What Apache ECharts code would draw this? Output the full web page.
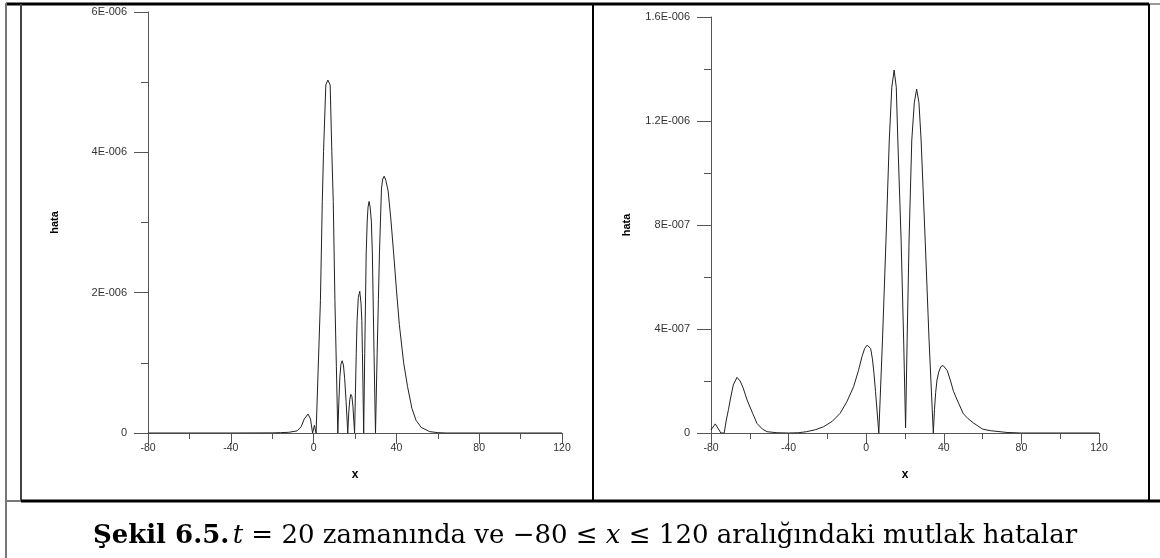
<!DOCTYPE html>
<html>
<head>
<meta charset="utf-8">
<script src="https://cdn.jsdelivr.net/npm/echarts@6/dist/echarts.min.js"></script>
<style>
html,body{margin:0;padding:0;background:#fff;}
#chart{width:1160px;height:558px;}
</style>
</head>
<body>
<div id="chart"></div>
<script>
// ---- Data (left panel): x and absolute error ----
var leftX = [-80,-40,-20,-16,-12,-8,-6,-4.5,-2.7,-1.5,-0.5,0.4,1.2,
  2.2,3.3,4.2,4.8,5.9,6.9,8.0,8.8,9.5,10.3,11.0,11.7,
  12.2,12.7,13.2,13.8,14.4,15.0,15.7,16.5,
  17.0,17.5,18.0,18.5,19.0,19.8,
  20.6,21.0,21.6,22.3,22.9,23.3,23.6,24.2,
  24.7,25.4,25.9,26.3,26.8,27.3,27.9,28.4,29.2,29.9,
  30.7,31.3,31.8,32.8,33.4,34.1,34.9,36.0,37.4,38.7,40.0,41.4,43.5,45.4,47.5,49.5,52,56,60,64,80,120];
var leftY = [0,0,0.002e-6,0.005e-6,0.01e-6,0.03e-6,0.09e-6,0.2e-6,0.27e-6,0.2e-6,0,0.11e-6,0,
  0.9e-6,1.89e-6,3.3e-6,4.01e-6,4.96e-6,5.03e-6,4.96e-6,4.01e-6,3.3e-6,1.89e-6,0.95e-6,0,
  0.45e-6,0.8e-6,0.98e-6,1.03e-6,0.97e-6,0.78e-6,0.45e-6,0,
  0.3e-6,0.48e-6,0.55e-6,0.52e-6,0.38e-6,0,
  1.13e-6,1.6e-6,1.93e-6,2.02e-6,1.85e-6,1.6e-6,1.13e-6,0,
  1.13e-6,2.55e-6,3.02e-6,3.22e-6,3.3e-6,3.22e-6,3.02e-6,2.55e-6,1.13e-6,0,
  1.13e-6,1.9e-6,2.55e-6,3.49e-6,3.62e-6,3.66e-6,3.6e-6,3.45e-6,3.02e-6,2.55e-6,2.05e-6,1.55e-6,1.0e-6,0.66e-6,0.35e-6,0.18e-6,0.08e-6,0.02e-6,0.005e-6,0,0,0];

// ---- Data (right panel): x and absolute error ----
var rightX = [-80,-77.8,-74.9,-73.2,-72.1,-71,-70.1,-68.5,-66.6,-65,-63.5,-61.4,-58.5,-56.3,-53.5,-51.1,-46,-40,-35,-30.7,-26,-22,-17.5,-13.4,
  -10,-6.5,-4,-2.2,-0.8,0.5,1.4,2.3,3.2,4.0,4.8,5.6,6.5,
  8.4,10.2,11.9,13.2,14.4,15.5,16.3,18.0,19.3,20.3,
  21.1,22.1,23.5,24.8,26.0,27.2,28.3,30.4,32.4,34.6,
  35.2,35.8,36.5,37.4,38.5,39.6,40.5,41.8,43.5,45,46.9,50,52.5,55.4,60,64,72.6,80,120];
var rightY = [0.12e-7,0.35e-7,0,0,0.5e-7,0.9e-7,1.27e-7,1.85e-7,2.14e-7,2.0e-7,1.75e-7,1.27e-7,0.75e-7,0.37e-7,0.15e-7,0.05e-7,0.01e-7,0,0.01e-7,0.05e-7,0.13e-7,0.24e-7,0.45e-7,0.76e-7,
  1.2e-7,1.78e-7,2.4e-7,2.93e-7,3.25e-7,3.38e-7,3.41e-7,3.25e-7,2.85e-7,2.3e-7,1.6e-7,0.85e-7,0,
  3.58e-7,7.42e-7,11.27e-7,13.3e-7,13.96e-7,13.3e-7,11.27e-7,7.42e-7,3.58e-7,0.2e-7,
  3.58e-7,7.42e-7,11.27e-7,12.7e-7,13.23e-7,12.7e-7,11.27e-7,7.42e-7,3.58e-7,0,
  0.9e-7,1.55e-7,2.04e-7,2.35e-7,2.55e-7,2.6e-7,2.58e-7,2.4e-7,2.0e-7,1.6e-7,1.27e-7,0.75e-7,0.55e-7,0.38e-7,0.15e-7,0.09e-7,0.02e-7,0,0];

// ---- Tick labels ----
var xTickValues = [-80,-40,0,40,80,120];
var leftYTickValues = [0,2e-6,4e-6,6e-6];
var leftYTickLabels = ['0','2E-006','4E-006','6E-006'];
var rightYTickValues = [0,4e-7,8e-7,1.2e-6,1.6e-6];
var rightYTickLabels = ['0','4E-007','8E-007','1.2E-006','1.6E-006'];

var captionParts = {
  bold: 'Şekil 6.5.',
  t: 't',
  mid: ' = 20 zamanında ve −80 ≤ ',
  x: 'x',
  end: ' ≤ 120 aralığındaki mutlak hatalar'
};

function zip(xs, ys){ var out=[]; for(var i=0;i<xs.length;i++) out.push([xs[i], ys[i]]); return out; }
function labelFor(vals, labels){
  return function(v){
    for (var i=0;i<vals.length;i++){ if (Math.abs(v-vals[i]) < 1e-12) return labels[i]; }
    return '';
  };
}

var font = 'Liberation Sans, Arial, sans-serif';
function xAxisCfg(idx){
  return {
    type:'value', gridIndex:idx, min:-80, max:120, interval:40,
    name:'x', nameLocation:'middle', nameGap:36,
    nameTextStyle:{fontFamily:font, fontWeight:'bold', fontSize:12, color:'#000'},
    axisLine:{onZero:false, lineStyle:{color:'#555', width:1}},
    axisTick:{length:11, lineStyle:{color:'#555'}},
    minorTick:{show:true, splitNumber:2, length:6, lineStyle:{color:'#555'}},
    axisLabel:{fontFamily:font, fontSize:10.5, color:'#333', margin:10},
    splitLine:{show:false}
  };
}
function yAxisCfg(idx, max, interval, fmt, gap){
  return {
    type:'value', gridIndex:idx, min:0, max:max, interval:interval,
    name:'hata', nameLocation:'middle', nameGap:gap, nameRotate:90,
    nameTextStyle:{fontFamily:font, fontWeight:'bold', fontSize:11, color:'#000'},
    axisLine:{show:true, onZero:false, lineStyle:{color:'#555', width:1}},
    axisTick:{show:true, length:14, lineStyle:{color:'#555'}},
    minorTick:{show:true, splitNumber:2, length:7, lineStyle:{color:'#555'}},
    axisLabel:{fontFamily:font, fontSize:11, color:'#333', margin:21, formatter:fmt},
    splitLine:{show:false}
  };
}

var chart = echarts.init(document.getElementById('chart'), null, {renderer:'canvas'});
chart.setOption({
  animation:false,
  backgroundColor:'#fff',
  grid:[
    {left:148, top:12, width:414, height:421},
    {left:711, top:17, width:388, height:416}
  ],
  xAxis:[xAxisCfg(0), xAxisCfg(1)],
  yAxis:[
    yAxisCfg(0, 6e-6, 2e-6, labelFor(leftYTickValues, leftYTickLabels), 88),
    yAxisCfg(1, 1.6e-6, 4e-7, labelFor(rightYTickValues, rightYTickLabels), 79)
  ],
  series:[
    {type:'line', xAxisIndex:0, yAxisIndex:0, data:zip(leftX,leftY), showSymbol:false, smooth:false,
     lineStyle:{color:'#222', width:1}},
    {type:'line', xAxisIndex:1, yAxisIndex:1, data:zip(rightX,rightY), showSymbol:false, smooth:false,
     lineStyle:{color:'#222', width:1}}
  ],
  graphic:[
    {type:'line', shape:{x1:6,y1:4,x2:1149,y2:4}, style:{stroke:'#000', lineWidth:3}},
    {type:'line', shape:{x1:1149,y1:4,x2:1160,y2:4}, style:{stroke:'#999', lineWidth:2}},
    {type:'line', shape:{x1:6,y1:3,x2:6,y2:558}, style:{stroke:'#777', lineWidth:2}},
    {type:'line', shape:{x1:21,y1:4,x2:21,y2:501}, style:{stroke:'#444', lineWidth:2}},
    {type:'line', shape:{x1:593,y1:4,x2:593,y2:501}, style:{stroke:'#000', lineWidth:2}},
    {type:'line', shape:{x1:1149,y1:4,x2:1149,y2:501}, style:{stroke:'#000', lineWidth:2}},
    {type:'line', shape:{x1:6,y1:501,x2:21,y2:501}, style:{stroke:'#777', lineWidth:2}},
    {type:'line', shape:{x1:21,y1:501,x2:1160,y2:501}, style:{stroke:'#000', lineWidth:3}},
    {type:'text', x:585, y:536, style:{
      text:'{b|'+captionParts.bold+'} {i|'+captionParts.t+'}{r|'+captionParts.mid+'}{i|'+captionParts.x+'}{r|'+captionParts.end+'}',
      align:'center', verticalAlign:'middle',
      rich:{
        b:{fontFamily:'DejaVu Serif', fontWeight:'bold', fontSize:26, fill:'#000'},
        i:{fontFamily:'DejaVu Serif', fontStyle:'italic', fontSize:26, fill:'#000'},
        r:{fontFamily:'DejaVu Serif', fontSize:26, fill:'#000'}
      }
    }}
  ]
});
</script>
</body>
</html>
